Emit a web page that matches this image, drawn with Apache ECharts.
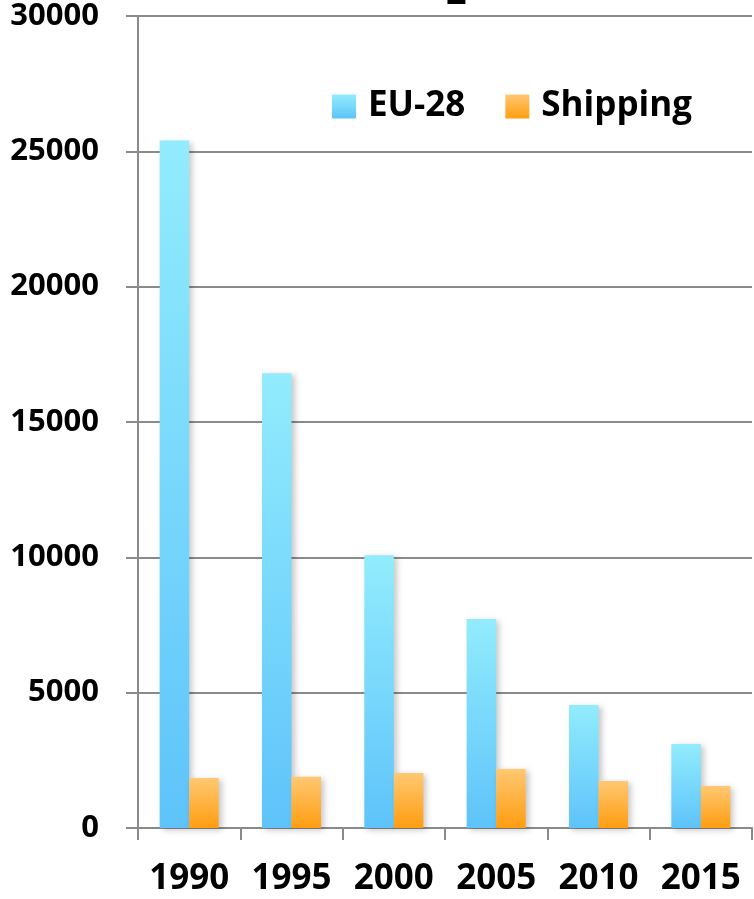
<!DOCTYPE html>
<html>
<head>
<meta charset="utf-8">
<script src="https://cdn.jsdelivr.net/npm/echarts@6/dist/echarts.min.js"></script>
<style>
  html, body { margin: 0; padding: 0; background: #ffffff; }
  #chart { width: 754px; height: 899px; }
</style>
</head>
<body>
<div id="chart"></div>
<script>
// Emissions by year: EU-28 total vs. shipping
const years = ['1990', '1995', '2000', '2005', '2010', '2015'];
const eu28 = [25400, 16800, 10080, 7720, 4540, 3100];
const shipping = [1850, 1890, 2030, 2180, 1740, 1550];
const yTicks = { min: 0, max: 30000, interval: 5000 };

const FONT = '"Open Sans", Lato, sans-serif';

function vGrad(top, bottom) {
  return new echarts.graphic.LinearGradient(0, 0, 0, 1, [
    { offset: 0, color: top },
    { offset: 1, color: bottom }
  ]);
}

const barShadow = {
  shadowBlur: 6,
  shadowOffsetX: 3,
  shadowOffsetY: 2,
  shadowColor: 'rgba(0,0,0,0.22)'
};

const chart = echarts.init(document.getElementById('chart'), null, { renderer: 'canvas' });

chart.setOption({
  backgroundColor: '#ffffff',
  animation: false,
  graphic: [{
    type: 'text',
    left: 446,
    top: -24,
    style: { text: '2', font: 'bold 36px ' + FONT, fill: '#000000' }
  }],
  legend: {
    left: 327,
    top: 84,
    itemWidth: 24,
    itemHeight: 24,
    itemGap: 40,
    icon: 'rect',
    textStyle: {
      fontFamily: FONT,
      fontWeight: 'bold',
      fontSize: 35,
      color: '#000000',
      padding: [0, 0, 0, 7]
    },
    data: ['EU-28', 'Shipping']
  },
  grid: { left: 138, right: 2, top: 16, bottom: 71, containLabel: false },
  xAxis: {
    type: 'category',
    data: years,
    boundaryGap: true,
    axisLine: { lineStyle: { color: '#8a8a8a', width: 2 } },
    axisTick: { show: true, length: 12, lineStyle: { color: '#8a8a8a', width: 2 } },
    axisLabel: {
      margin: 34,
      fontFamily: FONT,
      fontWeight: 'bold',
      fontSize: 35,
      color: '#000000',
      interval: 0
    }
  },
  yAxis: {
    type: 'value',
    min: yTicks.min,
    max: yTicks.max,
    interval: yTicks.interval,
    axisLine: { show: true, lineStyle: { color: '#8a8a8a', width: 2 } },
    axisTick: { show: true, length: 12, lineStyle: { color: '#8a8a8a', width: 2 } },
    splitLine: { show: true, lineStyle: { color: '#8a8a8a', width: 2 } },
    axisLabel: {
      margin: 39,
      fontFamily: FONT,
      fontWeight: 'bold',
      fontSize: 31,
      color: '#000000',
      formatter: function (v) { return String(v); }
    }
  },
  series: [
    {
      name: 'EU-28',
      type: 'bar',
      data: eu28,
      barWidth: 29.5,
      barGap: '0%',
      itemStyle: Object.assign({ color: vGrad('#92ecfd', '#5ec3fa') }, barShadow)
    },
    {
      name: 'Shipping',
      type: 'bar',
      data: shipping,
      barWidth: 29.5,
      barGap: '0%',
      itemStyle: Object.assign({ color: vGrad('#ffc872', '#ff9d10') }, barShadow)
    }
  ]
});
</script>
</body>
</html>
